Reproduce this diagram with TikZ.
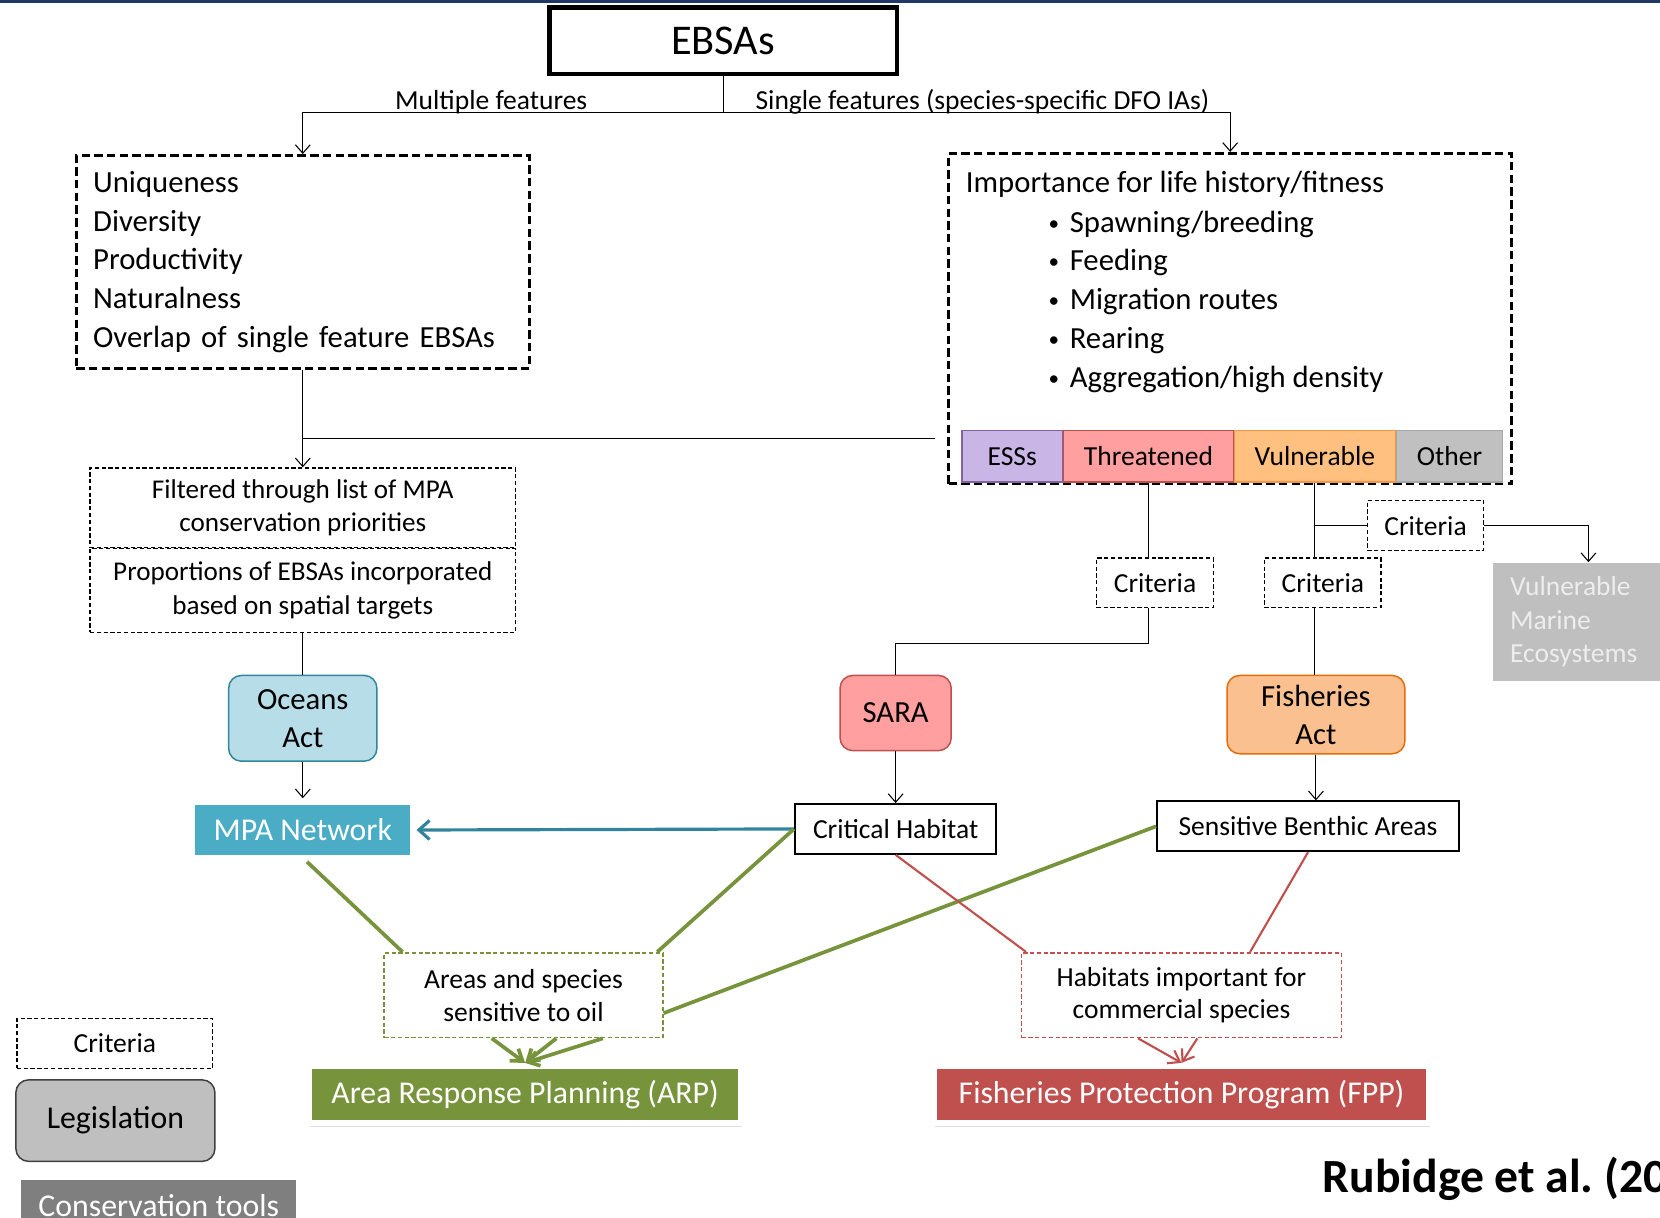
\documentclass[tikz,border=0pt]{standalone}
\usepackage{fontspec}
\setmainfont{Carlito}
\usetikzlibrary{positioning,calc,arrows.meta,shadows}
\frenchspacing

\definecolor{navy}{HTML}{1F3864}
\definecolor{essfill}{HTML}{C9B5E6}
\definecolor{essline}{HTML}{8064A2}
\definecolor{threatfill}{HTML}{FF9F9F}
\definecolor{threatline}{HTML}{C0504D}
\definecolor{vulnfill}{HTML}{FFC080}
\definecolor{vulnline}{HTML}{F79646}
\definecolor{otherfill}{HTML}{C0C0C0}
\definecolor{otherline}{HTML}{A6A6A6}
\definecolor{oceanfill}{HTML}{B7DEE8}
\definecolor{oceanline}{HTML}{31859C}
\definecolor{mpablue}{HTML}{4BACC6}
\definecolor{tealarrow}{HTML}{31849B}
\definecolor{oilgreen}{HTML}{77933C}
\definecolor{fppred}{HTML}{C0504D}
\definecolor{fishfill}{HTML}{FAC090}
\definecolor{fishline}{HTML}{E46C0A}
\definecolor{legisfill}{HTML}{BFBFBF}
\definecolor{vmetext}{HTML}{EDEDED}
\definecolor{toolgray}{HTML}{7F7F7F}

\newcommand{\smallbullet}{\raisebox{0.15ex}{\fontsize{10}{10}\selectfont\textbullet}\hspace{0.35em}}

\tikzstyle{heading} = [rectangle, draw, line width=2pt, text centered, minimum width=164pt, minimum height=31.5pt, font=\fontsize{20}{24}\selectfont]
\tikzstyle{group} = [rectangle, draw, line width=1.5pt, dash pattern=on 4pt off 2pt]
\tikzstyle{criteria} = [rectangle, draw, line width=0.6pt, dash pattern=on 2pt off 1.2pt, text centered, minimum width=55pt, minimum height=23.5pt, font=\fontsize{13}{15.5}\selectfont]
\tikzstyle{legislation} = [rectangle, draw, rounded corners=6pt, line width=0.7pt, align=center, font=\fontsize{14.5}{18}\selectfont]
\tikzstyle{tool} = [rectangle, draw=white, line width=3pt, text=white, text centered, minimum height=27pt, font=\fontsize{15}{18}\selectfont, drop shadow={opacity=0.25, shadow xshift=0.6pt, shadow yshift=-1.8pt}]
\tikzstyle{process} = [rectangle, draw, line width=1pt, text centered, minimum height=23.5pt, font=\fontsize{13}{16}\selectfont]
\tikzstyle{category} = [rectangle, draw, line width=0.6pt, text centered, minimum height=24.5pt, font=\fontsize{13}{16}\selectfont]
\tikzstyle{connector} = [line width=0.5pt, -{Straight Barb[length=4pt,width=7pt]}]
\tikzstyle{link} = [line width=0.5pt]
\tikzstyle{oil} = [oilgreen, line width=1.75pt]
\tikzstyle{fish} = [fppred, line width=1pt]
\tikzstyle{feed} = [-{Straight Barb[length=5pt,width=7pt]}]

\begin{document}
\begin{tikzpicture}[x=0.5pt, y=-0.5pt]
            \useasboundingbox (0,0) rectangle (1568,1150);
            \fill [navy] (0,0) rectangle (1568,2.5);
            \node (ebsa) [heading] at (683,38.5) {EBSAs};
            \coordinate (split) at (683,106);
            \node (multilabel) [anchor=base, inner sep=0pt, font=\fontsize{13}{16}\selectfont] at (464,103) {Multiple features};
            \node (singlelabel) [anchor=base, inner sep=0pt, font=\fontsize{13}{16}\selectfont] at (928,103) {Single features (species-specific DFO IAs)};
            \node (multi) [group, minimum width=214pt, minimum height=100.5pt, text width=198pt, inner xsep=8pt, align=left, font=\fontsize{14.5}{18.3}\selectfont] at (286,247.5) {Uniqueness\\Diversity\\Productivity\\Naturalness\\Overlap of single feature EBSAs};
            \node (single) [group, minimum width=266pt, minimum height=156pt] at (1162,301) {};
            \node (importance) [anchor=base west, inner sep=0pt, font=\fontsize{14.5}{18.3}\selectfont] at (912,182) {Importance for life history/fitness};
            \node (stages) [anchor=west, inner sep=0pt, align=left, font=\fontsize{14.5}{18.3}\selectfont] at (990,285) {\smallbullet Spawning/breeding\\\smallbullet Feeding\\\smallbullet Migration routes\\\smallbullet Rearing\\\smallbullet Aggregation/high density};
            \node (ess) [category, fill=essfill, draw=essline, minimum width=47.5pt, anchor=south west] at (908,456) {ESSs};
            \node (threat) [category, fill=threatfill, draw=threatline, minimum width=80pt, right=0pt of ess] {Threatened};
            \node (vuln) [category, fill=vulnfill, draw=vulnline, minimum width=76pt, right=0pt of threat] {Vulnerable};
            \node (other) [category, fill=otherfill, draw=otherline, minimum width=50pt, right=0pt of vuln] {Other};
            \coordinate (join) at (883,414);
            \node (filter) [criteria, minimum width=201pt, minimum height=37.5pt, align=center, font=\fontsize{12.8}{15.75}\selectfont] at (286,479.5) {Filtered through list of MPA\\conservation priorities};
            \node (targets) [criteria, minimum width=201pt, minimum height=39.5pt, align=center, font=\fontsize{12.8}{15.75}\selectfont, below=0pt of filter] {Proportions of EBSAs incorporated\\based on spatial targets};
            \node (oceans) [legislation, fill=oceanfill, draw=oceanline, minimum width=70pt, minimum height=40.5pt] at (286,678.5) {Oceans\\Act};
            \node (mpa) [tool, fill=mpablue, minimum width=104.5pt] at (286,784) {MPA Network};
            \node (sara) [legislation, fill=threatfill, draw=threatline, minimum width=52.5pt, minimum height=35.5pt] at (846,673.5) {SARA};
            \node (critical) [process, minimum width=95pt] at (846,783) {Critical Habitat};
            \node (crit1) [criteria] at (1091,550.5) {Criteria};
            \node (crit2) [criteria] at (1249.5,550.5) {Criteria};
            \node (crit3) [criteria] at (1346.5,496.5) {Criteria};
            \node (vme) [rectangle, fill=legisfill, text=vmetext, minimum width=90pt, minimum height=56pt, text width=74pt, inner xsep=8pt, align=left, font=\fontsize{13}{15.75}\selectfont, anchor=north west] at (1410,531) {Vulnerable\\Marine\\Ecosystems};
            \node (fishact) [legislation, fill=fishfill, draw=fishline, minimum width=84pt, minimum height=37pt] at (1243,675) {Fisheries\\Act};
            \node (benthic) [process, minimum width=142.5pt] at (1235.5,780.5) {Sensitive Benthic Areas};
            \node (oilareas) [criteria, draw=oilgreen, line width=0.8pt, minimum width=131.5pt, minimum height=40pt, align=center] at (494.5,940) {Areas and species\\sensitive to oil};
            \node (habitats) [criteria, draw=fppred, line width=0.8pt, minimum width=151pt, minimum height=40pt, align=center] at (1116,940) {Habitats important for\\commercial species};
            \node (arp) [tool, fill=oilgreen, minimum width=204pt] at (496,1034) {Area Response Planning (ARP)};
            \node (fpp) [tool, fill=fppred, minimum width=234pt] at (1116,1034) {Fisheries Protection Program (FPP)};
            % key
            \node (keycriteria) [criteria, minimum width=92.5pt] at (108.5,985.5) {Criteria};
            \node (keylegislation) [legislation, fill=legisfill, draw=black!75, minimum width=94pt, minimum height=38.5pt, font=\fontsize{15}{18}\selectfont] at (109,1058.5) {Legislation};
            \node (keytools) [tool, fill=toolgray, minimum width=133pt] at (150,1139) {Conservation tools};
            \node (citation) [anchor=base west, inner sep=0pt, font=\fontsize{22.5}{27}\selectfont\bfseries] at (1249,1126) {Rubidge et al. (20};
            % connectors
            \draw [link] (ebsa.south) -- (split);
            \draw [connector] (split) -| (multi.north);
            \draw [connector] (split) -| (single.north);
            \draw [link] (join) -- (join -| multi.south);
            \draw [connector] (multi.south) -- (filter.north);
            \draw [link] (targets.south) -- (oceans.north);
            \draw [connector] (oceans.south) -- (mpa.north);
            \draw [tealarrow, line width=1.5pt, -{Straight Barb[length=5pt,width=9pt]}] (critical.west) -- (mpa.east);
            \coordinate (saraelbow) at ($(threat.south |- crit1.south)+(0,33)$);
            \draw [link] (threat.south) -- (threat.south |- crit1.north);
            \draw [link] (threat.south |- crit1.south) -- (saraelbow) -| (sara.north);
            \draw [connector] (sara.south) -- (critical.north);
            \draw [link] (vuln.south) -- (vuln.south |- crit2.north);
            \draw [link] (vuln.south |- crit3.west) -- (crit3.west);
            \draw [connector] (crit3.east) -| (vme.north);
            \draw [link] (vuln.south |- crit2.south) -- (vuln.south |- fishact.north);
            \draw [connector] (fishact.south) -- (fishact.south |- benthic.north);
            \draw [oil] ($(mpa.south)+(4,0)$) -- ($(oilareas.north west)+(18,0)$);
            \draw [oil] (critical.west) -- ($(oilareas.north east)+(-6,0)$);
            \draw [oil] (benthic.west) -- ($(oilareas.east)+(0,17)$);
            \draw [oil, feed] ($(oilareas.south)+(-30,0)$) -- (arp.north);
            \draw [oil, feed] ($(oilareas.south)+(31,0)$) -- (arp.north);
            \draw [oil, feed] ($(oilareas.south)+(75,0)$) -- (arp.north);
            \draw [fish] (critical.south) -- ($(habitats.north west)+(5,0)$);
            \draw [fish] (benthic.south) -- ($(habitats.north east)+(-87,0)$);
            \draw [fish, feed] ($(habitats.south)+(-41,0)$) -- (fpp.north);
            \draw [fish, feed] ($(habitats.south)+(15,0)$) -- (fpp.north);
\end{tikzpicture}
\end{document}
